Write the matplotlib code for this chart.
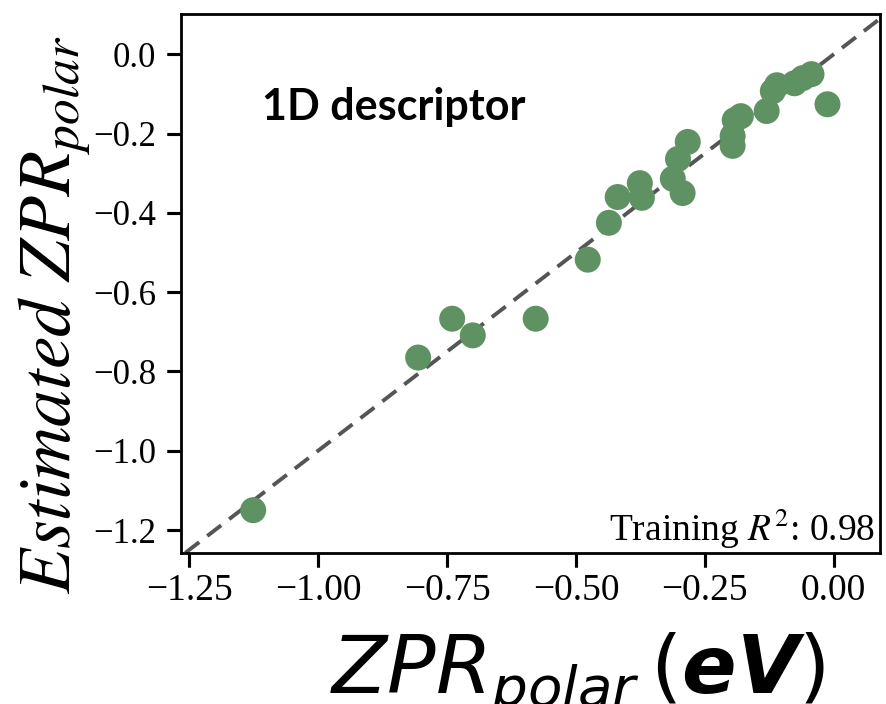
import numpy as np
import matplotlib.pyplot as plt
from matplotlib.font_manager import FontProperties
from matplotlib.markers import TICKLEFT, TICKDOWN

# DFT vs. model-estimated polar ZPR (eV)
zpr_true = [-1.126, -0.806, -0.740, -0.700, -0.578, -0.477, -0.436, -0.419,
            -0.376, -0.372, -0.312, -0.293, -0.302, -0.283, -0.196, -0.196,
            -0.192, -0.180, -0.130, -0.118, -0.110, -0.076, -0.060, -0.043,
            -0.012]
zpr_est = [-1.150, -0.765, -0.667, -0.709, -0.667, -0.518, -0.425, -0.360,
           -0.325, -0.362, -0.314, -0.350, -0.264, -0.221, -0.231, -0.206,
           -0.166, -0.156, -0.143, -0.093, -0.078, -0.073, -0.060, -0.050,
           -0.126]
r2 = 0.98
xticks = [-1.25, -1.00, -0.75, -0.50, -0.25, 0.00]
yticks = [0.0, -0.2, -0.4, -0.6, -0.8, -1.0, -1.2]

plt.rcParams['xtick.major.size'] = 10
plt.rcParams['ytick.major.size'] = 10
plt.rcParams['xtick.major.width'] = 2.2
plt.rcParams['ytick.major.width'] = 2.2
plt.rcParams['xtick.direction'] = 'out'
plt.rcParams['ytick.direction'] = 'out'

fig = plt.figure(figsize=(8.86, 7.04), dpi=100)
ax = fig.add_axes([0.2043, 0.2145, 0.789, 0.7656])

ax.plot([-1.3, 0.15], [-1.3, 0.15], ls='--', dashes=(4.5, 2.6), lw=2.8,
        color='#555555', zorder=1)
ax.scatter(zpr_true, zpr_est, s=350, color='#5f9262', edgecolors='none', zorder=2)
ax.set_xlim(-1.266, 0.09)
ax.set_ylim(-1.258, 0.1017)

serif = 'Liberation Serif'
ax.set_xticks(xticks)
ax.set_yticks(yticks)
ax.set_xticklabels(['\u2212%.2f' % abs(v) if v < 0 else '%.2f' % v for v in xticks],
                   family=serif, fontsize=27)
ax.set_yticklabels(['\u2212%.1f' % abs(v) if v < 0 else '%.1f' % v for v in yticks],
                   family=serif, fontsize=25)
ax.tick_params(axis='y', pad=8)
ax.tick_params(axis='x', pad=5)
for sp in ax.spines.values():
    sp.set_linewidth(2.0)

# heavy outward tick marks on the left and bottom spines
ax.plot(np.zeros(len(yticks)), yticks, ls='none', marker=TICKLEFT, ms=10,
        mew=2.2, color='black', transform=ax.get_yaxis_transform(), clip_on=False)
ax.plot(xticks, np.zeros(len(xticks)), ls='none', marker=TICKDOWN, ms=10,
        mew=2.2, color='black', transform=ax.get_xaxis_transform(), clip_on=False)

ax.text(0.116, 0.827, '1D descriptor', transform=ax.transAxes, family='Lato',
        fontweight='bold', fontsize=31, ha='left', va='center')

ax.text(0.993, 0.004, r'Training $R^2$: %.2f' % r2, transform=ax.transAxes,
        ha='right', va='bottom', fontproperties=FontProperties(
            family=serif, size=27, math_fontfamily='stix'))

ax.set_xlabel(r'$ZPR_{polar}\,(\boldsymbol{eV})$', fontproperties=FontProperties(
    size=58, math_fontfamily='dejavusans'))
ax.xaxis.set_label_coords(0.567, -0.145)
ax.set_ylabel(r'$Estimated\ ZPR_{polar}$', fontproperties=FontProperties(
    size=53, math_fontfamily='stix'))
ax.yaxis.set_label_coords(-0.125, 0.4416)

fig.savefig('out.png', dpi=100)
